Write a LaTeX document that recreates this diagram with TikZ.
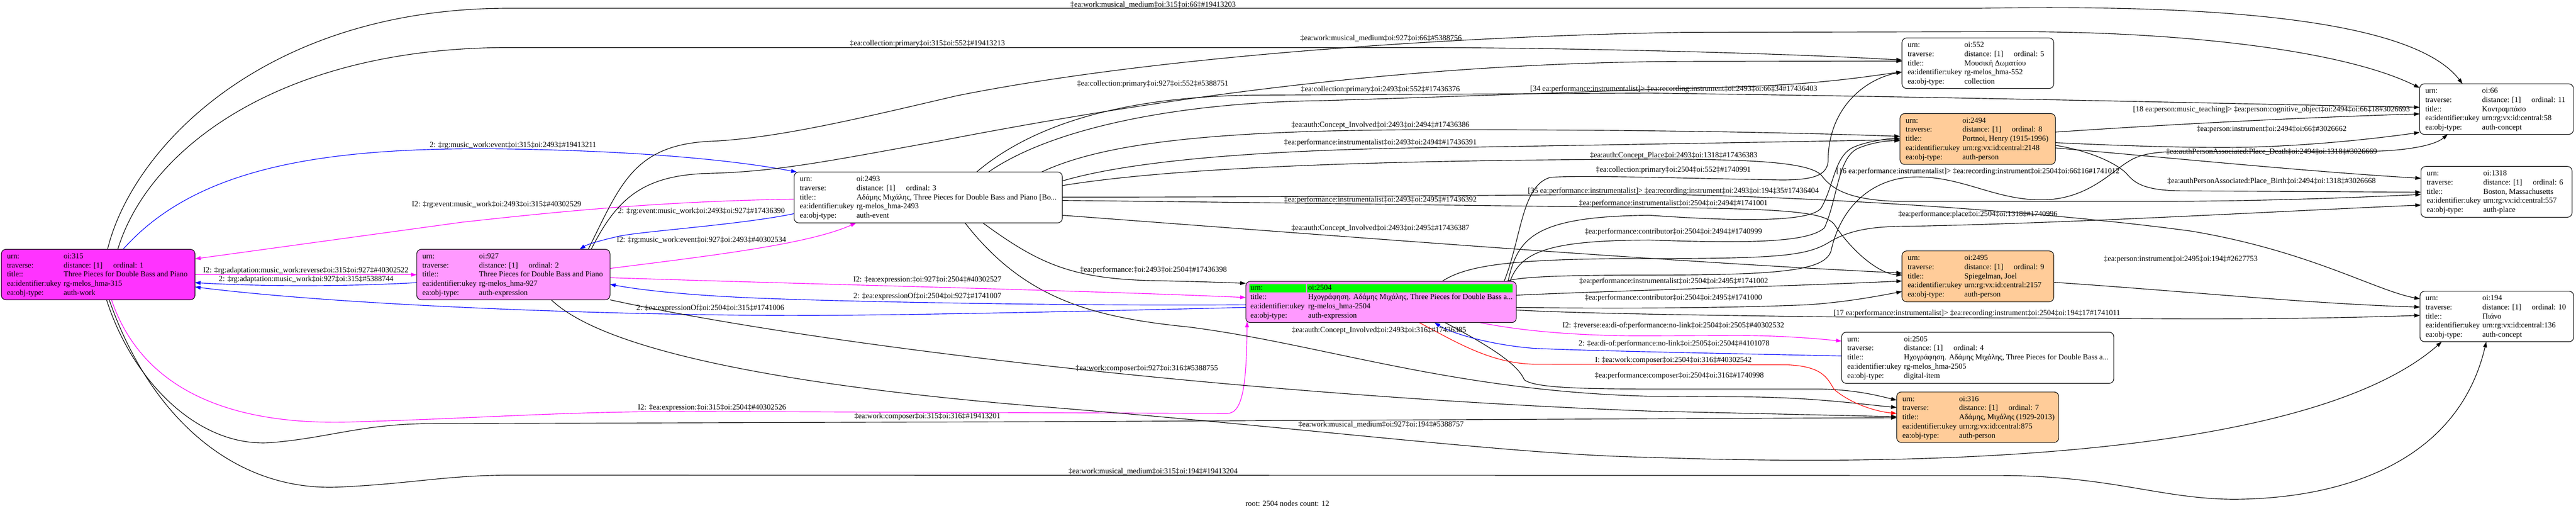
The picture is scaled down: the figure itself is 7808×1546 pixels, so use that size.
\documentclass[tikz,border=0pt]{standalone}
\usepackage{fontspec}
\setmainfont{Liberation Serif}
\usetikzlibrary{arrows.meta}
\pgfdeclarelayer{back}
\pgfdeclarelayer{edges}
\pgfsetlayers{back,edges,main}
\definecolor{mag}{HTML}{FF00FF}
\definecolor{blu}{HTML}{0000FF}
\definecolor{redd}{HTML}{FF0000}
\definecolor{workfill}{HTML}{FF33FF}
\definecolor{exprfill}{HTML}{FF99FF}
\definecolor{persfill}{HTML}{FFCC99}
\definecolor{rootgreen}{HTML}{00FF00}
\newcommand\fs{\fontsize{23.3pt}{27pt}\selectfont}
\tikzset{
  nodebox/.style={draw=black, line width=1.7pt, rounded corners=14pt, anchor=north west, inner sep=0pt, outer sep=0pt},
  rowtxt/.style={anchor=base west, inner sep=0pt, font=\fs},
  elabel/.style={inner sep=0pt, font=\fs},
  conn/.style={line width=1.8pt, -{Triangle[length=17pt,width=11.5pt]}},
}
\newcommand\rowsfive[6]{%
\node[rowtxt] (#1ka) at ([xshift=17pt,yshift=-28pt]#1.north west) {urn:};
\node[rowtxt] (#1va) at ([xshift=189pt,yshift=-28pt]#1.north west) {#2};
\node[rowtxt] (#1kb) at ([xshift=17pt,yshift=-55.7pt]#1.north west) {traverse:};
\node[rowtxt] (#1vb) at ([xshift=189pt,yshift=-55.7pt]#1.north west) {distance: [1]};
\node[rowtxt] (#1ob) at ([xshift=339pt,yshift=-55.7pt]#1.north west) {ordinal: #3};
\node[rowtxt] (#1kc) at ([xshift=17pt,yshift=-83.4pt]#1.north west) {title::};
\node[rowtxt] (#1vc) at ([xshift=189pt,yshift=-83.4pt]#1.north west) {#4};
\node[rowtxt] (#1kd) at ([xshift=17pt,yshift=-111.1pt]#1.north west) {ea:identifier:ukey};
\node[rowtxt] (#1vd) at ([xshift=189pt,yshift=-111.1pt]#1.north west) {#5};
\node[rowtxt] (#1ke) at ([xshift=17pt,yshift=-138.8pt]#1.north west) {ea:obj-type:};
\node[rowtxt] (#1ve) at ([xshift=189pt,yshift=-138.8pt]#1.north west) {#6};
}
\begin{document}
\begin{tikzpicture}[x=1pt,y=-1pt]
\begin{pgfonlayer}{back}
\fill[white] (0,0) rectangle (7808,1546);
\end{pgfonlayer}
\useasboundingbox (0,0) rectangle (7808,1546);

% ---------- nodes ----------
\node[nodebox, fill=workfill, minimum width=587pt, minimum height=153pt] (n315) at (4,755) {};
\node[nodebox, fill=exprfill, minimum width=586pt, minimum height=153pt] (n927) at (1263,755) {};
\node[nodebox, fill=white, minimum width=813pt, minimum height=154pt] (n2493) at (2407,521) {};
\node[nodebox, fill=exprfill, minimum width=820pt, minimum height=125pt] (n2504) at (3776,852) {};
\node[nodebox, fill=white, minimum width=460pt, minimum height=153pt] (n552) at (5765,115) {};
\node[nodebox, fill=persfill, minimum width=471pt, minimum height=154pt] (n2494) at (5759,344) {};
\node[nodebox, fill=persfill, minimum width=460pt, minimum height=154pt] (n2495) at (5765,760) {};
\node[nodebox, fill=white, minimum width=825pt, minimum height=155pt] (n2505) at (5582,1006) {};
\node[nodebox, fill=persfill, minimum width=491pt, minimum height=153pt] (n316) at (5749,1187) {};
\node[nodebox, fill=white, minimum width=466pt, minimum height=153pt] (n66) at (7334,254) {};
\node[nodebox, fill=white, minimum width=458pt, minimum height=154pt] (n1318) at (7338,504) {};
\node[nodebox, fill=white, minimum width=466pt, minimum height=153pt] (n194) at (7335,882) {};

\rowsfive{n315}{oi:315}{1}{Three Pieces for Double Bass and Piano}{rg-melos\_hma-315}{auth-work}
\rowsfive{n927}{oi:927}{2}{Three Pieces for Double Bass and Piano}{rg-melos\_hma-927}{auth-expression}
\rowsfive{n2493}{oi:2493}{3}{Αδάμης Μιχάλης, Three Pieces for Double Bass and Piano [Bo...}{rg-melos\_hma-2493}{auth-event}
\rowsfive{n552}{oi:552}{5}{Μουσική Δωματίου}{rg-melos\_hma-552}{collection}
\rowsfive{n2494}{oi:2494}{8}{Portnoi, Henry (1915-1996)}{urn:rg:vx:id:central:2148}{auth-person}
\rowsfive{n2495}{oi:2495}{9}{Spiegelman, Joel}{urn:rg:vx:id:central:2157}{auth-person}
\rowsfive{n2505}{oi:2505}{4}{Ηχογράφηση. Αδάμης Μιχάλης, Three Pieces for Double Bass a...}{rg-melos\_hma-2505}{digital-item}
\rowsfive{n316}{oi:316}{7}{Αδάμης, Μιχάλης (1929-2013)}{urn:rg:vx:id:central:875}{auth-person}
\rowsfive{n66}{oi:66}{11}{Κοντραμπάσο}{urn:rg:vx:id:central:58}{auth-concept}
\rowsfive{n1318}{oi:1318}{6}{Boston, Massachusetts}{urn:rg:vx:id:central:557}{auth-place}
\rowsfive{n194}{oi:194}{10}{Πιάνο}{urn:rg:vx:id:central:136}{auth-concept}

% root node rows
\fill[rootgreen] ([xshift=11pt,yshift=-8pt]n2504.north west) rectangle ([xshift=182pt,yshift=-33pt]n2504.north west);
\fill[rootgreen] ([xshift=186pt,yshift=-8pt]n2504.north west) rectangle ([xshift=809pt,yshift=-33pt]n2504.north west);
\node[rowtxt] (n2504ka) at ([xshift=14pt,yshift=-27pt]n2504.north west) {urn:};
\node[rowtxt] (n2504va) at ([xshift=189pt,yshift=-27pt]n2504.north west) {oi:2504};
\node[rowtxt] (n2504kc) at ([xshift=14pt,yshift=-55pt]n2504.north west) {title::};
\node[rowtxt] (n2504vc) at ([xshift=189pt,yshift=-55pt]n2504.north west) {Ηχογράφηση. Αδάμης Μιχάλης, Three Pieces for Double Bass a...};
\node[rowtxt] (n2504kd) at ([xshift=14pt,yshift=-82.5pt]n2504.north west) {ea:identifier:ukey};
\node[rowtxt] (n2504vd) at ([xshift=189pt,yshift=-82.5pt]n2504.north west) {rg-melos\_hma-2504};
\node[rowtxt] (n2504ke) at ([xshift=14pt,yshift=-110pt]n2504.north west) {ea:obj-type:};
\node[rowtxt] (n2504ve) at ([xshift=189pt,yshift=-110pt]n2504.north west) {auth-expression};

% ---------- edges ----------
\begin{pgfonlayer}{edges}
\draw[conn] ([xshift=322pt]n315.north west) .. controls (400,450) and (800,25) .. (1542,25) -- (6000,25) .. controls (6600,15) and (7300,40) .. ([xshift=130pt]n66.north west);
\draw[conn] ([xshift=353pt]n315.north west) .. controls (450,450) and (850,144) .. (1542,144) -- (4300,144) .. controls (4700,144) and (5400,160) .. ([yshift=-67pt]n552.north west);
\draw[conn,blu] ([xshift=369pt]n315.north west) .. controls (600,500) and (1000,440) .. (1584,452) .. controls (1900,458) and (2200,480) .. ([xshift=8pt]n2493.north west);
\draw[conn,mag] ([yshift=-82pt]n2493.north west) .. controls (2000,610) and (1700,640) .. (1400,673) -- ([xshift=587pt,yshift=-29pt]n315.north west);
\draw[conn,mag] ([xshift=587pt,yshift=-77pt]n315.north west) -- ([yshift=-77pt]n927.north west);
\draw[conn,blu] ([yshift=-101pt]n927.north west) .. controls (1050,868) and (800,868) .. ([xshift=587pt,yshift=-101pt]n315.north west);
\draw[conn,blu] ([yshift=-79pt]n2504.north west) .. controls (3200,945) and (2600,958) .. (2300,955) .. controls (1700,950) and (1000,920) .. ([xshift=587pt,yshift=-114pt]n315.north west);
\draw[conn,mag] ([xshift=334pt,yshift=-153pt]n315.north west) .. controls (420,1150) and (650,1290) .. (1063,1278) .. controls (1500,1265) and (1700,1246) .. (2100,1246) -- (3720,1252) .. controls (3770,1252) and (3778,1150) .. ([xshift=4pt,yshift=-122pt]n2504.north west);
\draw[conn] ([xshift=319pt,yshift=-153pt]n315.north west) .. controls (400,1150) and (600,1360) .. (827,1340) .. controls (1000,1325) and (1100,1284) .. (1300,1283) -- (3200,1277) .. controls (4000,1273) and (5000,1268) .. ([yshift=-78pt]n316.north west);
\draw[conn] ([xshift=327pt,yshift=-153pt]n315.north west) .. controls (450,1250) and (700,1490) .. (1028,1475) .. controls (1250,1465) and (1350,1439) .. (1550,1439) -- (6057,1440) .. controls (6400,1440) and (6550,1512) .. (6774,1512) .. controls (7100,1510) and (7450,1400) .. ([xshift=201pt,yshift=-153pt]n194.north west);
\draw[conn] ([xshift=586pt,yshift=-153pt]n927.north west) .. controls (2500,1050) and (3800,1200) .. (5000,1245) -- ([yshift=-75pt]n316.north west);
\draw[conn] ([xshift=408pt,yshift=-153pt]n927.north west) .. controls (1850,1080) and (2500,1180) .. (3200,1235) .. controls (4000,1300) and (4600,1378) .. (5000,1385) .. controls (6300,1430) and (7100,1300) .. ([xshift=66pt,yshift=-153pt]n194.north west);
\draw[conn] ([xshift=520pt]n927.north west) .. controls (1880,560) and (1920,440) .. (2150,428) .. controls (2350,420) and (2600,360) .. (2900,290) .. controls (3500,170) and (4400,110) .. (5100,98) -- (6100,96) .. controls (6600,95) and (7100,150) .. ([yshift=-12pt]n66.north west);
\draw[conn] ([xshift=529pt]n927.north west) .. controls (1870,600) and (1950,530) .. (2150,525) .. controls (2350,520) and (2500,490) .. (2836,429) .. controls (3400,320) and (4200,190) .. (5100,186) -- ([yshift=-70pt]n552.north west);
\draw[conn] ([xshift=589pt]n2493.north west) .. controls (3200,380) and (3600,310) .. (4000,305) .. controls (4500,290) and (5000,270) .. (5300,262) .. controls (5550,252) and (5680,228) .. ([yshift=-103pt]n552.north west);
\draw[conn] ([xshift=553pt]n2493.north west) .. controls (3150,360) and (3450,290) .. (3818,288) -- (5000,282) .. controls (6000,295) and (6800,315) .. ([yshift=-71pt]n66.north west);
\draw[conn] ([xshift=750pt]n2493.north west) .. controls (3350,430) and (3700,395) .. (4300,393) .. controls (4900,392) and (5400,400) .. ([yshift=-69pt]n2494.north west);
\draw[conn] ([xshift=813pt,yshift=-27pt]n2493.north west) .. controls (3450,480) and (3900,450) .. (4443,446) .. controls (4900,438) and (5400,430) .. ([yshift=-79pt]n2494.north west);
\draw[conn] ([xshift=813pt,yshift=-41pt]n2493.north west) .. controls (3600,500) and (4300,485) .. (5000,482) .. controls (5300,482) and (5480,490) .. (5520,530) .. controls (5550,570) and (5600,608) .. (5766,610) -- (6500,610) .. controls (6900,610) and (7200,595) .. ([yshift=-85pt]n1318.north west);
\draw[conn] ([xshift=813pt,yshift=-86pt]n2493.north west) .. controls (4000,615) and (4600,625) .. (5000,628) .. controls (5400,632) and (5530,640) .. (5560,680) .. controls (5620,770) and (5700,830) .. ([yshift=-73pt]n2495.north west);
\draw[conn] ([xshift=813pt,yshift=-76pt]n2493.north west) .. controls (4000,597) and (4700,590) .. (5000,588) .. controls (5500,595) and (6200,640) .. (6642,700) .. controls (7000,760) and (7200,880) .. ([yshift=-23pt]n194.north west);
\draw[conn] ([xshift=813pt,yshift=-131pt]n2493.north west) .. controls (4000,710) and (5000,790) .. ([yshift=-67pt]n2495.north west);
\draw[conn] ([xshift=572pt,yshift=-154pt]n2493.north west) .. controls (3150,800) and (3250,845) .. (3500,850) .. controls (3650,853) and (3720,856) .. ([yshift=-6pt]n2504.north west);
\draw[conn] ([xshift=518pt,yshift=-154pt]n2493.north west) .. controls (3100,900) and (3300,960) .. (3600,990) .. controls (4000,1040) and (4400,1185) .. (5000,1200) -- (5300,1202) .. controls (5500,1204) and (5650,1225) .. ([yshift=-47pt]n316.north west);
\draw[conn] ([xshift=604pt,yshift=-125pt]n2504.north west) .. controls (4500,1040) and (4600,1100) .. (4620,1150) .. controls (4650,1175) and (4800,1178) .. (5000,1178) -- (5500,1178) .. controls (5620,1178) and (5700,1200) .. ([yshift=-25pt]n316.north west);
\draw[conn,redd] ([xshift=526pt,yshift=-125pt]n2504.north west) .. controls (4420,1040) and (4520,1100) .. (4650,1103) -- (5420,1105) .. controls (5530,1110) and (5540,1150) .. (5560,1180) .. controls (5620,1230) and (5700,1248) .. ([yshift=-65pt]n316.north west);
\draw[conn,blu] ([yshift=-72pt]n2505.north west) .. controls (5200,1070) and (4800,1062) .. (4650,1055) .. controls (4520,1045) and (4400,1010) .. ([xshift=572pt,yshift=-125pt]n2504.north west);
\draw[conn,mag] ([xshift=710pt,yshift=-125pt]n2504.north west) .. controls (4650,1010) and (4850,1018) .. (5000,1017) -- (5260,1016) .. controls (5400,1016) and (5500,1025) .. ([yshift=-27pt]n2505.north west);
\draw[conn] ([xshift=783pt]n2504.north west) .. controls (4612,720) and (4612,560) .. (4700,537) .. controls (4800,530) and (5100,540) .. (5400,545) .. controls (5500,545) and (5536,530) .. (5541,490) .. controls (5540,330) and (5650,240) .. ([yshift=-103pt]n552.north west);
\draw[conn] ([xshift=789pt]n2504.north west) .. controls (4600,840) and (4700,833) .. (5000,833) .. controls (5400,833) and (5530,820) .. (5550,760) .. controls (5580,620) and (5680,540) .. (5800,536) .. controls (5950,532) and (6050,610) .. (6200,605) .. controls (6330,600) and (6400,520) .. (6450,490) .. controls (6480,470) and (6520,460) .. (6600,459) -- (7200,458) .. controls (7300,455) and (7380,440) .. ([xshift=85pt,yshift=-153pt]n66.north west);
\draw[conn] ([xshift=795pt]n2504.north west) .. controls (4600,720) and (4650,655) .. (5000,652) .. controls (5300,673) and (5490,670) .. (5520,630) .. controls (5560,560) and (5560,470) .. (5620,445) .. controls (5660,428) and (5720,420) .. ([yshift=-75pt]n2494.north west);
\draw[conn] ([xshift=801pt]n2504.north west) .. controls (4610,760) and (4700,728) .. (5000,727) .. controls (5300,737) and (5480,735) .. (5530,690) .. controls (5570,600) and (5570,480) .. (5630,450) .. controls (5670,432) and (5720,426) .. ([yshift=-82pt]n2494.north west);
\draw[conn] ([xshift=595pt]n2504.north west) .. controls (4450,800) and (4600,783) .. (5000,783) .. controls (5400,783) and (5480,775) .. (5550,730) .. controls (5620,690) and (5700,685) .. (5800,685) .. controls (6300,675) and (6900,640) .. ([yshift=-117pt]n1318.north west);
\draw[conn] ([xshift=820pt,yshift=-42pt]n2504.north west) .. controls (4900,880) and (5400,868) .. ([yshift=-91pt]n2495.north west);
\draw[conn] ([xshift=820pt,yshift=-79pt]n2504.north west) .. controls (4800,934) and (5200,935) .. (5478,923) .. controls (5600,915) and (5700,895) .. ([yshift=-123pt]n2495.north west);
\draw[conn] ([xshift=820pt,yshift=-87pt]n2504.north west) .. controls (4800,950) and (5200,955) .. (5574,960) -- (6500,965) .. controls (6900,968) and (7200,960) .. ([yshift=-73pt]n194.north west);
\draw[conn] ([xshift=460pt,yshift=-95pt]n2495.north west) .. controls (6600,880) and (7000,920) .. ([yshift=-48pt]n194.north west);
\draw[conn] ([xshift=471pt,yshift=-56pt]n2494.north west) .. controls (6600,375) and (7000,355) .. ([yshift=-91pt]n66.north west);
\draw[conn] ([xshift=471pt,yshift=-88pt]n2494.north west) .. controls (6500,445) and (6700,448) .. (6800,446) .. controls (7000,442) and (7200,420) .. ([yshift=-147pt]n66.north west);
\draw[conn] ([xshift=471pt,yshift=-104pt]n2494.north west) .. controls (6600,480) and (7000,520) .. ([yshift=-36pt]n1318.north west);
\draw[conn] ([xshift=471pt,yshift=-96pt]n2494.north west) .. controls (6350,460) and (6420,500) .. (6445,525) .. controls (6470,555) and (6500,578) .. (6620,578) -- ([yshift=-78pt]n1318.north west);
\draw[conn,blu] ([yshift=-126pt]n2493.north west) .. controls (2250,680) and (1950,700) .. (1878,715) .. controls (1820,728) and (1780,740) .. ([xshift=494pt]n927.north west);
\draw[conn,mag] ([xshift=586pt,yshift=-58pt]n927.north west) .. controls (2150,775) and (2450,740) .. ([xshift=188pt,yshift=-154pt]n2493.north west);
\draw[conn,mag] ([xshift=586pt,yshift=-86pt]n927.north west) .. controls (2500,862) and (3300,880) .. ([yshift=-49pt]n2504.north west);
\draw[conn,blu] ([yshift=-71pt]n2504.north west) .. controls (3300,927) and (2600,915) .. (2300,903) .. controls (2100,895) and (1950,880) .. ([xshift=586pt,yshift=-106pt]n927.north west);
\end{pgfonlayer}

% ---------- edge labels ----------
\node[elabel] (l1) at (3495,14) {‡ea:work:musical\_medium‡oi:315‡oi:66‡\#19413203};
\node[elabel] (l2) at (2811,132) {‡ea:collection:primary‡oi:315‡oi:552‡\#19413213};
\node[elabel] (l3) at (1555,441) {2: ‡rg:music\_work:event‡oi:315‡oi:2493‡\#19413211};
\node[elabel] (l4) at (1505,620) {I2: ‡rg:event:music\_work‡oi:2493‡oi:315‡\#40302529};
\node[elabel] (l5) at (927,820) {I2: ‡rg:adaptation:music\_work:reverse‡oi:315‡oi:927‡\#40302522};
\node[elabel] (l6) at (928,846) {2: ‡rg:adaptation:music\_work‡oi:927‡oi:315‡\#5388744};
\node[elabel] (l7) at (2153,934) {2: ‡ea:expressionOf‡oi:2504‡oi:315‡\#1741006};
\node[elabel] (l8) at (2158,1235) {I2: ‡ea:expression:‡oi:315‡oi:2504‡\#40302526};
\node[elabel] (l9) at (2811,1262) {‡ea:work:composer‡oi:315‡oi:316‡\#19413201};
\node[elabel] (l10) at (3495,1427) {‡ea:work:musical\_medium‡oi:315‡oi:194‡\#19413204};
\node[elabel] (l11) at (3476,1117) {‡ea:work:composer‡oi:927‡oi:316‡\#5388755};
\node[elabel] (l12) at (4186,1285) {‡ea:work:musical\_medium‡oi:927‡oi:194‡\#5388757};
\node[elabel] (l13) at (4186,116) {‡ea:work:musical\_medium‡oi:927‡oi:66‡\#5388756};
\node[elabel] (l14) at (3494,254) {‡ea:collection:primary‡oi:927‡oi:552‡\#5388751};
\node[elabel] (l15) at (4184,271) {‡ea:collection:primary‡oi:2493‡oi:552‡\#17436376};
\node[elabel] (l16) at (5073,270) {[34 ea:performance:instrumentalist]> ‡ea:recording:instrument‡oi:2493‡oi:66‡34\#17436403};
\node[elabel] (l17) at (4184,380) {‡ea:auth:Concept\_Involved‡oi:2493‡oi:2494‡\#17436386};
\node[elabel] (l18) at (4184,433) {‡ea:performance:instrumentalist‡oi:2493‡oi:2494‡\#17436391};
\node[elabel] (l19) at (5073,471) {‡ea:auth:Concept\_Place‡oi:2493‡oi:1318‡\#17436383};
\node[elabel] (l20) at (4184,606) {‡ea:performance:instrumentalist‡oi:2493‡oi:2495‡\#17436392};
\node[elabel] (l21) at (5072,579) {[35 ea:performance:instrumentalist]> ‡ea:recording:instrument‡oi:2493‡oi:194‡35\#17436404};
\node[elabel] (l22) at (4184,692) {‡ea:auth:Concept\_Involved‡oi:2493‡oi:2495‡\#17436387};
\node[elabel] (l23) at (3496,818) {‡ea:performance:‡oi:2493‡oi:2504‡\#17436398};
\node[elabel] (l24) at (4180,1001) {‡ea:auth:Concept\_Involved‡oi:2493‡oi:316‡\#17436385};
\node[elabel] (l25) at (5090,1138) {‡ea:performance:composer‡oi:2504‡oi:316‡\#1740998};
\node[elabel] (l26) at (5072,1091) {I: ‡ea:work:composer‡oi:2504‡oi:316‡\#40302542};
\node[elabel] (l27) at (5074,1042) {2: ‡ea:di-of:performance:no-link‡oi:2505‡oi:2504‡\#4101078};
\node[elabel] (l28) at (5072,987) {I2: ‡reverse:ea:di-of:performance:no-link‡oi:2504‡oi:2505‡\#40302532};
\node[elabel] (l29) at (5072,516) {‡ea:collection:primary‡oi:2504‡oi:552‡\#1740991};
\node[elabel] (l30) at (5995,520) {[16 ea:performance:instrumentalist]> ‡ea:recording:instrument‡oi:2504‡oi:66‡16\#1741012};
\node[elabel] (l31) at (5072,617) {‡ea:performance:instrumentalist‡oi:2504‡oi:2494‡\#1741001};
\node[elabel] (l32) at (5072,702) {‡ea:performance:contributor‡oi:2504‡oi:2494‡\#1740999};
\node[elabel] (l33) at (5073,852) {‡ea:performance:instrumentalist‡oi:2504‡oi:2495‡\#1741002};
\node[elabel] (l34) at (5072,902) {‡ea:performance:contributor‡oi:2504‡oi:2495‡\#1741000};
\node[elabel] (l35) at (5992,949) {[17 ea:performance:instrumentalist]> ‡ea:recording:instrument‡oi:2504‡oi:194‡17\#1741011};
\node[elabel] (l36) at (6610,785) {‡ea:person:instrument‡oi:2495‡oi:194‡\#2627753};
\node[elabel] (l37) at (6885,333) {[18 ea:person:music\_teaching]> ‡ea:person:cognitive\_object‡oi:2494‡oi:66‡18\#3026693};
\node[elabel] (l38) at (6885,392) {‡ea:person:instrument‡oi:2494‡oi:66‡\#3026662};
\node[elabel] (l39) at (6885,460) {‡ea:authPersonAssociated:Place\_Death‡oi:2494‡oi:1318‡\#3026669};
\node[elabel] (l40) at (6885,548) {‡ea:authPersonAssociated:Place\_Birth‡oi:2494‡oi:1318‡\#3026668};
\node[elabel] (l41) at (2126,640) {2: ‡rg:event:music\_work‡oi:2493‡oi:927‡\#17436390};
\node[elabel] (l42) at (2126,727) {I2: ‡rg:music\_work:event‡oi:927‡oi:2493‡\#40302534};
\node[elabel] (l43) at (2811,848) {I2: ‡ea:expression:‡oi:927‡oi:2504‡\#40302527};
\node[elabel] (l44) at (2811,897) {2: ‡ea:expressionOf‡oi:2504‡oi:927‡\#1741007};
\node[elabel] (l45) at (5995,650) {‡ea:performance:place‡oi:2504‡oi:1318‡\#1740996};

\node[elabel] (root) at (3902,1524) {root: 2504 nodes count: 12};
\end{tikzpicture}
\end{document}
